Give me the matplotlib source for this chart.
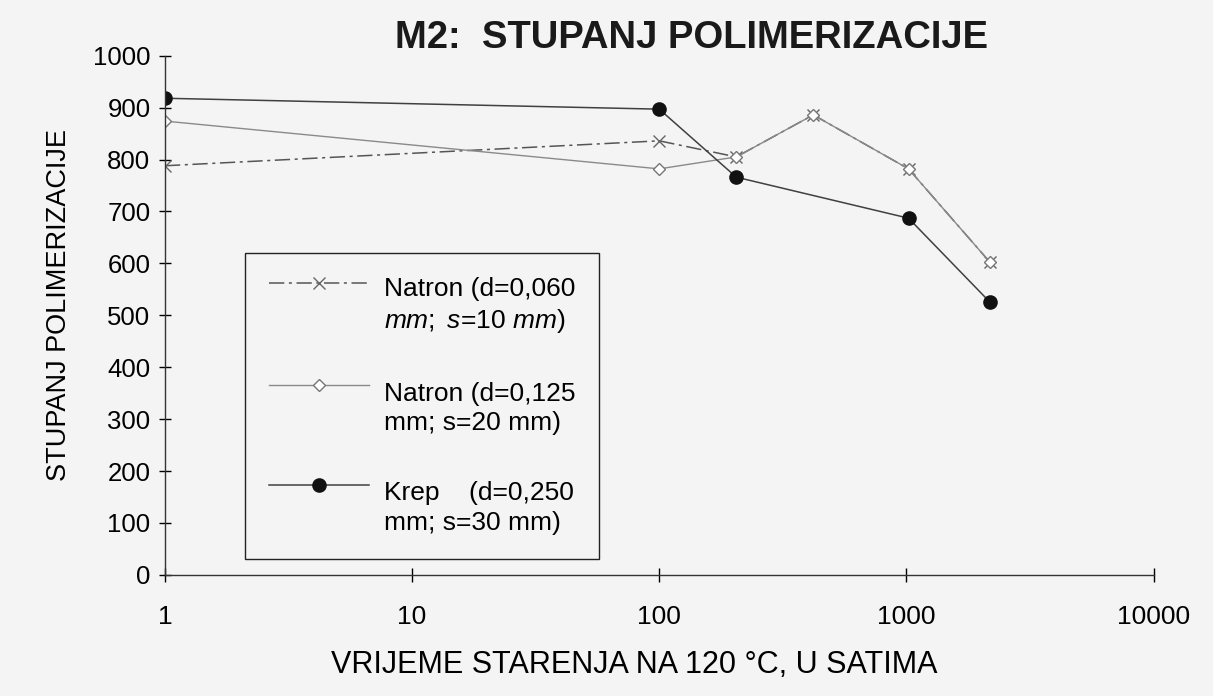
import matplotlib
matplotlib.use("Agg")
import matplotlib.pyplot as plt
from matplotlib.legend_handler import HandlerLine2D

# data
hours = [1, 100, 205, 420, 1020, 2170]
natron_060 = [788, 836, 805, 886, 782, 603]
natron_125 = [874, 782, 805, 886, 782, 603]
krep_hours = [1, 100, 205, 1020, 2170]
krep_vals = [918, 897, 766, 687, 526]

x_ticks = [1, 10, 100, 1000, 10000]
x_ticklabels = ["1", "10", "100", "1000", "10000"]
y_ticks = list(range(0, 1001, 100))

labels = [
    "Natron (d=0,060\n" + r"$\mathit{mm;}$ $\mathit{s}$=$\mathit{10}$ $\mathit{mm}$)",
    "Natron (d=0,125\nmm; s=20 mm)",
    "Krep    (d=0,250\nmm; s=30 mm)",
]

plt.rcParams["font.family"] = ["Liberation Sans", "DejaVu Sans"]
plt.rcParams["mathtext.fontset"] = "custom"
plt.rcParams["mathtext.it"] = "Liberation Sans:italic"
plt.rcParams["mathtext.rm"] = "Liberation Sans"


class TopHandler(HandlerLine2D):
    # put the legend line at the level of the first text line
    def create_artists(self, legend, orig_handle, xdescent, ydescent,
                       width, height, fontsize, trans):
        return super().create_artists(legend, orig_handle, xdescent,
                                      ydescent - 34, width, height,
                                      fontsize, trans)


paper = "#f4f4f4"
fig = plt.figure(figsize=(12.13, 6.96), dpi=100, facecolor=paper)
ax = fig.add_axes([0.136, 0.174, 0.815, 0.746], facecolor=paper)

l1, = ax.plot(hours, natron_060, color="#555555", lw=1.1, ls=(0, (10, 3, 2, 3)),
              marker="x", ms=8, mew=1.0, mfc="none", mec="#666666")
l2, = ax.plot(hours, natron_125, color="#8a8a8a", lw=1.0, ls="-",
              marker="D", ms=6, mew=1.0, mfc="white", mec="#777777")
l3, = ax.plot(krep_hours, krep_vals, color="#404040", lw=1.1, ls="-",
              marker="o", ms=9.5, mfc="#111111", mec="#111111")

ax.set_xscale("log")
ax.set_xlim(1, 10000)
ax.set_ylim(0, 1000)
ax.set_xticks(x_ticks)
ax.set_xticklabels(x_ticklabels, fontsize=19)
ax.xaxis.set_minor_locator(matplotlib.ticker.NullLocator())
ax.set_yticks(y_ticks)
ax.tick_params(axis="y", direction="inout", length=9, width=1, labelsize=18.5, pad=6)
ax.tick_params(axis="x", direction="inout", length=10, width=1, pad=17)

for s in ["top", "right"]:
    ax.spines[s].set_visible(False)
for s in ["left", "bottom"]:
    ax.spines[s].set_color("#333333")
    ax.spines[s].set_linewidth(1.0)

ax.set_xlabel("VRIJEME STARENJA NA 120 °C, U SATIMA", fontsize=22)
ax.xaxis.set_label_coords(0.475, -0.145)
ax.set_ylabel("STUPANJ POLIMERIZACIJE", fontsize=19.5)
ax.yaxis.set_label_coords(-0.094, 0.52)
fig.text(0.57, 0.945, "M2:  STUPANJ POLIMERIZACIJE", ha="center", va="center",
         fontsize=27.5, fontweight="bold", color="#1a1a1a")

handler = TopHandler()
leg = ax.legend([l1, l2, l3], labels, loc="upper left",
                bbox_to_anchor=(0.202, 0.636), bbox_transform=fig.transFigure,
                handler_map={l1: handler, l2: handler, l3: handler},
                fontsize=19, frameon=True, fancybox=False, edgecolor="#222222",
                facecolor=paper, framealpha=1, handlelength=3.8,
                labelspacing=1.75, borderpad=0.9, handletextpad=0.55,
                borderaxespad=0)
leg.get_frame().set_linewidth(1.0)
for t in leg.get_texts():
    t.set_linespacing(1.3)

fig.savefig("out.png", dpi=100, facecolor=paper)
